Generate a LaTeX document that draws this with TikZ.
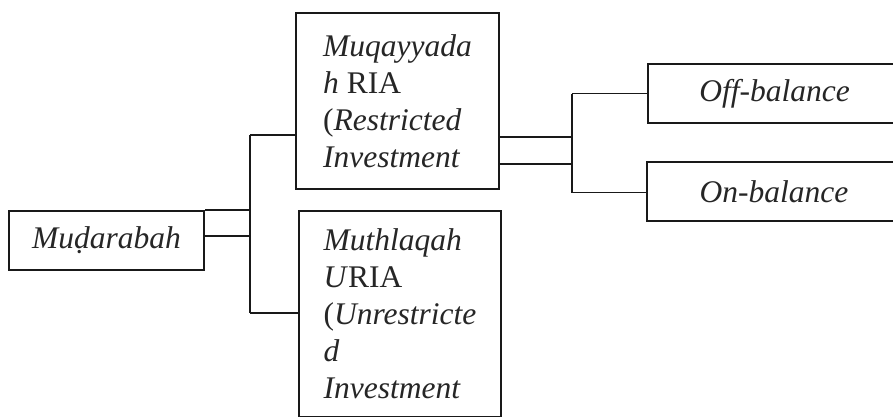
\documentclass[tikz,border=0pt]{standalone}
\usepackage{fontspec}
\setmainfont{Liberation Serif}
\usetikzlibrary{calc}
\begin{document}
\begin{tikzpicture}[x=1pt,y=-1pt,
  box/.style={draw=black!90, line width=2pt, rectangle, anchor=north west,
    font=\fontsize{31.5}{37}\selectfont, text=black!85},
  tall/.style={box, align=left, inner xsep=21pt, inner ysep=18pt},
  wire/.style={draw=black!90, line width=1.9pt}]
\useasboundingbox (0,0) rectangle (893,416);
\clip (0,0) rectangle (893,416);
\fill[white] (0,0) rectangle (893,416);
% boxes
\node[box, minimum width=195pt, minimum height=59pt, inner sep=0pt] (mud) at (8,210) {\itshape Muḍarabah};
\node[tall, minimum width=203pt, minimum height=176pt] (muq) at (295,12)
  {\textit{Muqayyada}\\\textit{h} RIA\\(\textit{Restricted}\\\textit{Investment}};
\node[tall, minimum width=202pt] (mut) at (298,210)
  {\textit{Muthlaqah}\\\textit{U}RIA\\(\textit{Unrestricte}\\\textit{d}\\\textit{Investment}};
\node[box, minimum width=253pt, minimum height=59pt, inner sep=0pt] (off) at (647,63) {\itshape Off-balance};
\node[box, minimum width=254pt, minimum height=59pt, inner sep=0pt] (on) at (646,161) {\itshape On-balance};
% junction coordinates
\coordinate (j1) at (250,0);
\coordinate (j2) at (572,0);
\coordinate (m1) at ($(mud.north east)!0.43!(mud.south east)$);
\coordinate (q1) at ($(muq.north west)!0.69!(muq.south west)$);
\coordinate (t1) at ($(mut.north west)+(0,103)$);
\coordinate (r1) at ($(muq.north east)!0.70!(muq.south east)$);
\coordinate (r2) at ($(muq.north east)!0.855!(muq.south east)$);
\coordinate (n1) at ($(on.west)+(0,1)$);
% connectors from Mudarabah
\draw[wire] (mud.north east) -- (mud.north east -| j1);
\draw[wire] (m1) -- (m1 -| j1);
\draw[wire] (q1 -| j1) -- (t1 -| j1);
\draw[wire] (q1 -| j1) -- (q1);
\draw[wire] (t1 -| j1) -- (t1);
% connectors from Muqayyadah
\draw[wire] (r1) -- (r1 -| j2);
\draw[wire] (r2) -- (r2 -| j2);
\draw[wire] (off.west -| j2) -- (n1 -| j2);
\draw[wire] (off.west -| j2) -- (off.west);
\draw[wire] (n1 -| j2) -- (n1);
\end{tikzpicture}
\end{document}
